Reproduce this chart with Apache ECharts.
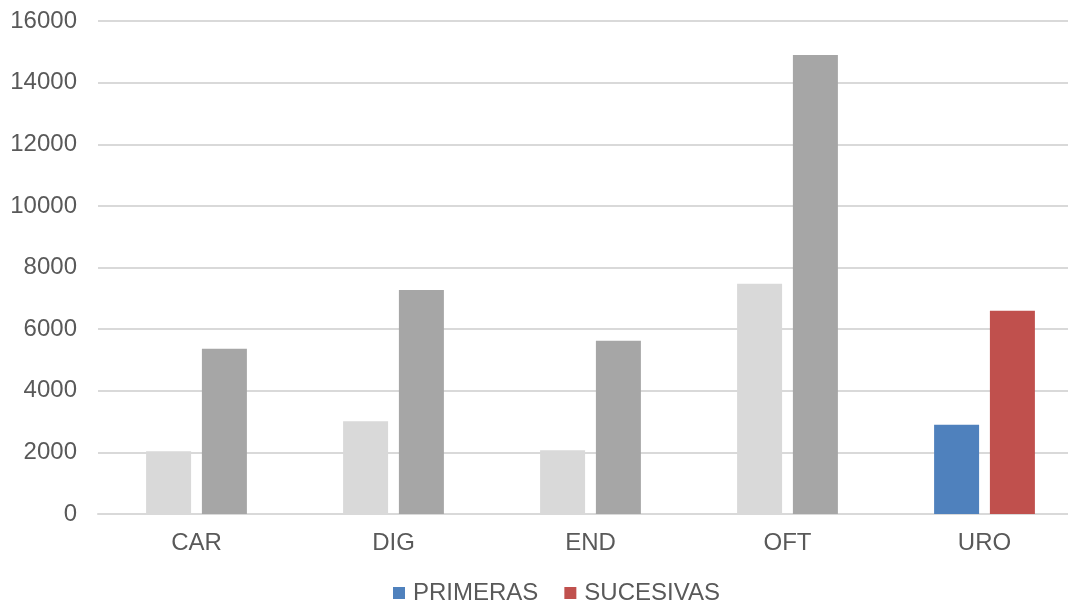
<!DOCTYPE html>
<html>
<head>
<meta charset="utf-8">
<script src="https://cdn.jsdelivr.net/npm/echarts@6/dist/echarts.min.js"></script>
<style>
html,body{margin:0;padding:0;background:#fff;}
#chart{width:1068px;height:604px;}
</style>
</head>
<body>
<div id="chart"></div>
<script>
const categories = ['CAR', 'DIG', 'END', 'OFT', 'URO'];
const primeras = [2040, 3010, 2070, 7470, 2900];
const sucesivas = [5360, 7270, 5620, 14900, 6600];
const yTicks = [0, 2000, 4000, 6000, 8000, 10000, 12000, 14000, 16000];

const highlightCategory = 'URO';
const colorPrimeras = '#4F81BD';
const colorSucesivas = '#C0504D';
const greyPrimeras = '#D9D9D9';
const greySucesivas = '#A6A6A6';

function buildData(values, grey) {
  return values.map((v, i) => categories[i] === highlightCategory
    ? { value: v }
    : { value: v, itemStyle: { color: grey } });
}

const font = 'Liberation Sans, Arial, sans-serif';
const chart = echarts.init(document.getElementById('chart'), null, { renderer: 'canvas' });
chart.setOption({
  animation: false,
  backgroundColor: '#ffffff',
  grid: { left: 98, width: 985, top: 21, height: 493, containLabel: false, outerBoundsMode: 'none' },
  legend: {
    top: 581,
    left: 393,
    padding: 0,
    icon: 'rect',
    itemWidth: 12,
    itemHeight: 12,
    itemGap: 26,
    textStyle: { color: '#595959', fontSize: 24, fontFamily: font, padding: [0, 0, 0, 3] },
    data: ['PRIMERAS', 'SUCESIVAS']
  },
  xAxis: {
    type: 'category',
    data: categories,
    axisLine: { show: true, lineStyle: { color: '#D9D9D9', width: 2 } },
    axisTick: { show: false },
    axisLabel: { color: '#595959', fontSize: 24, fontFamily: font, margin: 17 }
  },
  yAxis: {
    type: 'value',
    min: yTicks[0],
    max: yTicks[yTicks.length - 1],
    interval: yTicks[1] - yTicks[0],
    axisLine: { show: false },
    axisTick: { show: false },
    axisLabel: { color: '#595959', fontSize: 24, fontFamily: font, margin: 21, formatter: v => String(v) },
    splitLine: { lineStyle: { color: '#D9D9D9', width: 2 } }
  },
  series: [
    {
      name: 'PRIMERAS',
      type: 'bar',
      data: buildData(primeras, greyPrimeras),
      itemStyle: { color: colorPrimeras },
      barWidth: 45,
      barGap: '24%'
    },
    {
      name: 'SUCESIVAS',
      type: 'bar',
      data: buildData(sucesivas, greySucesivas),
      itemStyle: { color: colorSucesivas },
      barWidth: 45,
      barGap: '24%'
    }
  ]
});
</script>
</body>
</html>
